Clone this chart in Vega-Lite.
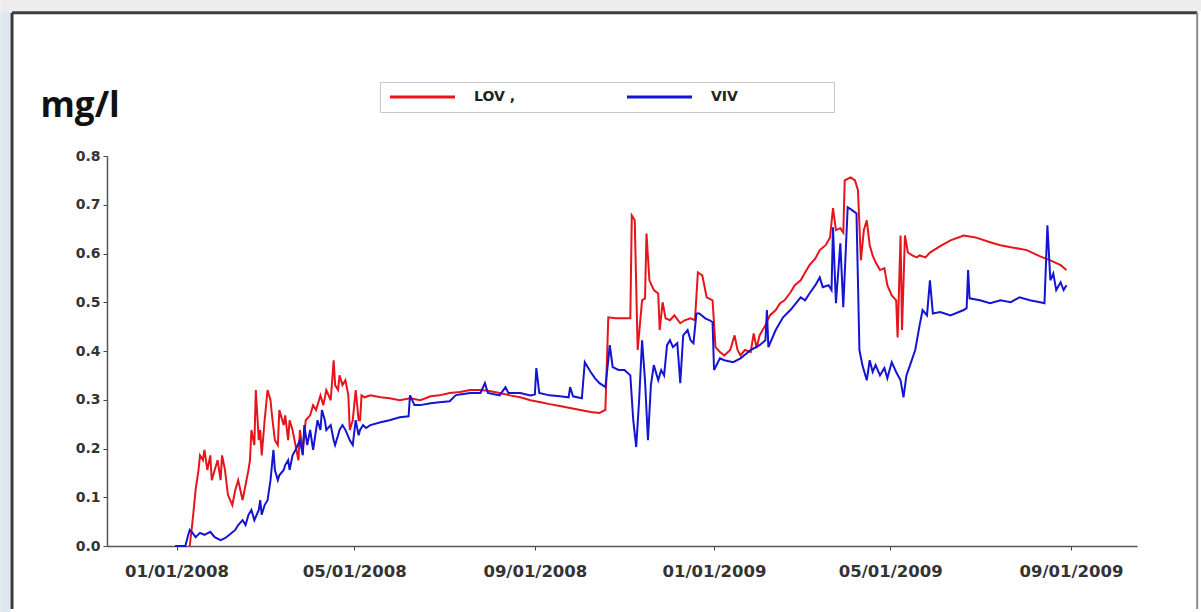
{
  "$schema": "https://vega.github.io/schema/vega-lite/v6.json",
  "width": 1030,
  "height": 390,
  "autosize": {"type": "none"},
  "padding": {"left": 107, "top": 156, "right": 64, "bottom": 66},
  "background": "#ffffff",
  "config": {"view": {"stroke": null}},
  "layer": [
    {
      "data": {"values": [{}]},
      "mark": {"type": "rect", "fill": "#ededed", "clip": false},
      "encoding": {
        "x": {"datum": {"year": 2007, "month": 9, "date": 3, "utc": true}, "type": "temporal"},
        "x2": {"datum": {"year": 2009, "month": 11, "date": 29, "utc": true}},
        "y": {"datum": 1.125, "type": "quantitative"},
        "y2": {"datum": 1.097}
      }
    },
    {
      "data": {"values": [{}]},
      "mark": {"type": "rect", "fill": "#dfe7f0", "clip": false},
      "encoding": {
        "x": {"datum": {"year": 2007, "month": 9, "date": 3, "utc": true}, "type": "temporal"},
        "x2": {"datum": {"year": 2007, "month": 9, "date": 10, "utc": true}},
        "y": {"datum": 1.097, "type": "quantitative"},
        "y2": {"datum": -0.14}
      }
    },
    {
      "data": {"values": [{}]},
      "mark": {"type": "rule", "stroke": "#3c3c3c", "strokeWidth": 3, "clip": false},
      "encoding": {
        "x": {"datum": {"year": 2007, "month": 9, "date": 11, "utc": true}, "type": "temporal"},
        "x2": {"datum": {"year": 2009, "month": 11, "date": 26, "utc": true}},
        "y": {"datum": 1.094, "type": "quantitative"}
      }
    },
    {
      "data": {"values": [{}]},
      "mark": {"type": "rule", "stroke": "#3c3c3c", "strokeWidth": 3, "clip": false},
      "encoding": {
        "x": {"datum": {"year": 2007, "month": 9, "date": 11, "utc": true}, "type": "temporal"},
        "y": {"datum": 1.094, "type": "quantitative"},
        "y2": {"datum": -0.129}
      }
    },
    {
      "data": {"values": [{}]},
      "mark": {"type": "rule", "stroke": "#8a8a8a", "strokeWidth": 2, "clip": false},
      "encoding": {
        "x": {"datum": {"year": 2009, "month": 11, "date": 26, "utc": true}, "type": "temporal"},
        "y": {"datum": 1.094, "type": "quantitative"},
        "y2": {"datum": -0.129}
      }
    },
    {
      "data": {"values": [
        {"s":"LOV","date":"2008-01-10","v":0},
        {"s":"LOV","date":"2008-01-12","v":0.053},
        {"s":"LOV","date":"2008-01-14","v":0.115},
        {"s":"LOV","date":"2008-01-16","v":0.156},
        {"s":"LOV","date":"2008-01-17","v":0.186},
        {"s":"LOV","date":"2008-01-19","v":0.176},
        {"s":"LOV","date":"2008-01-20","v":0.197},
        {"s":"LOV","date":"2008-01-22","v":0.156},
        {"s":"LOV","date":"2008-01-24","v":0.186},
        {"s":"LOV","date":"2008-01-25","v":0.135},
        {"s":"LOV","date":"2008-01-27","v":0.156},
        {"s":"LOV","date":"2008-01-29","v":0.176},
        {"s":"LOV","date":"2008-01-31","v":0.135},
        {"s":"LOV","date":"2008-02-01","v":0.186},
        {"s":"LOV","date":"2008-02-03","v":0.156},
        {"s":"LOV","date":"2008-02-05","v":0.105},
        {"s":"LOV","date":"2008-02-08","v":0.084},
        {"s":"LOV","date":"2008-02-10","v":0.115},
        {"s":"LOV","date":"2008-02-12","v":0.135},
        {"s":"LOV","date":"2008-02-15","v":0.094},
        {"s":"LOV","date":"2008-02-17","v":0.125},
        {"s":"LOV","date":"2008-02-19","v":0.156},
        {"s":"LOV","date":"2008-02-20","v":0.176},
        {"s":"LOV","date":"2008-02-21","v":0.238},
        {"s":"LOV","date":"2008-02-23","v":0.207},
        {"s":"LOV","date":"2008-02-24","v":0.320},
        {"s":"LOV","date":"2008-02-26","v":0.217},
        {"s":"LOV","date":"2008-02-27","v":0.238},
        {"s":"LOV","date":"2008-02-28","v":0.186},
        {"s":"LOV","date":"2008-03-01","v":0.258},
        {"s":"LOV","date":"2008-03-03","v":0.320},
        {"s":"LOV","date":"2008-03-05","v":0.299},
        {"s":"LOV","date":"2008-03-06","v":0.268},
        {"s":"LOV","date":"2008-03-08","v":0.217},
        {"s":"LOV","date":"2008-03-10","v":0.207},
        {"s":"LOV","date":"2008-03-11","v":0.279},
        {"s":"LOV","date":"2008-03-14","v":0.248},
        {"s":"LOV","date":"2008-03-15","v":0.268},
        {"s":"LOV","date":"2008-03-17","v":0.217},
        {"s":"LOV","date":"2008-03-18","v":0.258},
        {"s":"LOV","date":"2008-03-20","v":0.238},
        {"s":"LOV","date":"2008-03-22","v":0.207},
        {"s":"LOV","date":"2008-03-24","v":0.176},
        {"s":"LOV","date":"2008-03-25","v":0.238},
        {"s":"LOV","date":"2008-03-27","v":0.197},
        {"s":"LOV","date":"2008-03-29","v":0.258},
        {"s":"LOV","date":"2008-04-01","v":0.268},
        {"s":"LOV","date":"2008-04-03","v":0.289},
        {"s":"LOV","date":"2008-04-05","v":0.279},
        {"s":"LOV","date":"2008-04-08","v":0.309},
        {"s":"LOV","date":"2008-04-10","v":0.289},
        {"s":"LOV","date":"2008-04-12","v":0.320},
        {"s":"LOV","date":"2008-04-15","v":0.299},
        {"s":"LOV","date":"2008-04-17","v":0.381},
        {"s":"LOV","date":"2008-04-18","v":0.330},
        {"s":"LOV","date":"2008-04-20","v":0.320},
        {"s":"LOV","date":"2008-04-21","v":0.350},
        {"s":"LOV","date":"2008-04-23","v":0.330},
        {"s":"LOV","date":"2008-04-25","v":0.340},
        {"s":"LOV","date":"2008-04-27","v":0.309},
        {"s":"LOV","date":"2008-04-28","v":0.238},
        {"s":"LOV","date":"2008-04-30","v":0.258},
        {"s":"LOV","date":"2008-05-02","v":0.320},
        {"s":"LOV","date":"2008-05-04","v":0.258},
        {"s":"LOV","date":"2008-05-05","v":0.258},
        {"s":"LOV","date":"2008-05-06","v":0.309},
        {"s":"LOV","date":"2008-05-08","v":0.305},
        {"s":"LOV","date":"2008-05-12","v":0.309},
        {"s":"LOV","date":"2008-05-19","v":0.305},
        {"s":"LOV","date":"2008-05-25","v":0.303},
        {"s":"LOV","date":"2008-06-01","v":0.299},
        {"s":"LOV","date":"2008-06-08","v":0.303},
        {"s":"LOV","date":"2008-06-15","v":0.299},
        {"s":"LOV","date":"2008-06-22","v":0.307},
        {"s":"LOV","date":"2008-06-28","v":0.309},
        {"s":"LOV","date":"2008-07-05","v":0.314},
        {"s":"LOV","date":"2008-07-12","v":0.316},
        {"s":"LOV","date":"2008-07-19","v":0.320},
        {"s":"LOV","date":"2008-07-26","v":0.320},
        {"s":"LOV","date":"2008-08-01","v":0.318},
        {"s":"LOV","date":"2008-08-08","v":0.314},
        {"s":"LOV","date":"2008-08-15","v":0.309},
        {"s":"LOV","date":"2008-08-22","v":0.305},
        {"s":"LOV","date":"2008-08-29","v":0.299},
        {"s":"LOV","date":"2008-09-05","v":0.295},
        {"s":"LOV","date":"2008-09-11","v":0.291},
        {"s":"LOV","date":"2008-09-18","v":0.287},
        {"s":"LOV","date":"2008-09-25","v":0.283},
        {"s":"LOV","date":"2008-10-02","v":0.279},
        {"s":"LOV","date":"2008-10-09","v":0.275},
        {"s":"LOV","date":"2008-10-15","v":0.273},
        {"s":"LOV","date":"2008-10-19","v":0.279},
        {"s":"LOV","date":"2008-10-21","v":0.469},
        {"s":"LOV","date":"2008-10-26","v":0.467},
        {"s":"LOV","date":"2008-11-01","v":0.467},
        {"s":"LOV","date":"2008-11-05","v":0.467},
        {"s":"LOV","date":"2008-11-06","v":0.678},
        {"s":"LOV","date":"2008-11-08","v":0.668},
        {"s":"LOV","date":"2008-11-10","v":0.402},
        {"s":"LOV","date":"2008-11-13","v":0.504},
        {"s":"LOV","date":"2008-11-15","v":0.508},
        {"s":"LOV","date":"2008-11-16","v":0.641},
        {"s":"LOV","date":"2008-11-18","v":0.545},
        {"s":"LOV","date":"2008-11-21","v":0.525},
        {"s":"LOV","date":"2008-11-24","v":0.518},
        {"s":"LOV","date":"2008-11-25","v":0.443},
        {"s":"LOV","date":"2008-11-27","v":0.500},
        {"s":"LOV","date":"2008-11-29","v":0.467},
        {"s":"LOV","date":"2008-12-02","v":0.463},
        {"s":"LOV","date":"2008-12-05","v":0.473},
        {"s":"LOV","date":"2008-12-09","v":0.457},
        {"s":"LOV","date":"2008-12-12","v":0.463},
        {"s":"LOV","date":"2008-12-16","v":0.467},
        {"s":"LOV","date":"2008-12-19","v":0.463},
        {"s":"LOV","date":"2008-12-21","v":0.561},
        {"s":"LOV","date":"2008-12-24","v":0.555},
        {"s":"LOV","date":"2008-12-27","v":0.510},
        {"s":"LOV","date":"2008-12-31","v":0.504},
        {"s":"LOV","date":"2009-01-02","v":0.408},
        {"s":"LOV","date":"2009-01-05","v":0.398},
        {"s":"LOV","date":"2009-01-08","v":0.391},
        {"s":"LOV","date":"2009-01-12","v":0.402},
        {"s":"LOV","date":"2009-01-15","v":0.432},
        {"s":"LOV","date":"2009-01-17","v":0.402},
        {"s":"LOV","date":"2009-01-19","v":0.391},
        {"s":"LOV","date":"2009-01-22","v":0.402},
        {"s":"LOV","date":"2009-01-26","v":0.398},
        {"s":"LOV","date":"2009-01-28","v":0.436},
        {"s":"LOV","date":"2009-01-30","v":0.406},
        {"s":"LOV","date":"2009-02-01","v":0.432},
        {"s":"LOV","date":"2009-02-05","v":0.453},
        {"s":"LOV","date":"2009-02-08","v":0.473},
        {"s":"LOV","date":"2009-02-12","v":0.484},
        {"s":"LOV","date":"2009-02-15","v":0.498},
        {"s":"LOV","date":"2009-02-18","v":0.504},
        {"s":"LOV","date":"2009-02-22","v":0.520},
        {"s":"LOV","date":"2009-02-25","v":0.535},
        {"s":"LOV","date":"2009-03-01","v":0.545},
        {"s":"LOV","date":"2009-03-04","v":0.561},
        {"s":"LOV","date":"2009-03-07","v":0.576},
        {"s":"LOV","date":"2009-03-11","v":0.590},
        {"s":"LOV","date":"2009-03-14","v":0.607},
        {"s":"LOV","date":"2009-03-18","v":0.617},
        {"s":"LOV","date":"2009-03-21","v":0.633},
        {"s":"LOV","date":"2009-03-23","v":0.693},
        {"s":"LOV","date":"2009-03-25","v":0.648},
        {"s":"LOV","date":"2009-03-28","v":0.652},
        {"s":"LOV","date":"2009-03-30","v":0.643},
        {"s":"LOV","date":"2009-03-31","v":0.750},
        {"s":"LOV","date":"2009-04-04","v":0.756},
        {"s":"LOV","date":"2009-04-07","v":0.750},
        {"s":"LOV","date":"2009-04-09","v":0.730},
        {"s":"LOV","date":"2009-04-11","v":0.586},
        {"s":"LOV","date":"2009-04-13","v":0.648},
        {"s":"LOV","date":"2009-04-15","v":0.668},
        {"s":"LOV","date":"2009-04-17","v":0.617},
        {"s":"LOV","date":"2009-04-19","v":0.596},
        {"s":"LOV","date":"2009-04-21","v":0.582},
        {"s":"LOV","date":"2009-04-24","v":0.566},
        {"s":"LOV","date":"2009-04-27","v":0.570},
        {"s":"LOV","date":"2009-04-29","v":0.535},
        {"s":"LOV","date":"2009-05-02","v":0.514},
        {"s":"LOV","date":"2009-05-05","v":0.504},
        {"s":"LOV","date":"2009-05-06","v":0.428},
        {"s":"LOV","date":"2009-05-08","v":0.637},
        {"s":"LOV","date":"2009-05-09","v":0.443},
        {"s":"LOV","date":"2009-05-11","v":0.637},
        {"s":"LOV","date":"2009-05-13","v":0.602},
        {"s":"LOV","date":"2009-05-16","v":0.596},
        {"s":"LOV","date":"2009-05-19","v":0.592},
        {"s":"LOV","date":"2009-05-21","v":0.596},
        {"s":"LOV","date":"2009-05-25","v":0.592},
        {"s":"LOV","date":"2009-05-28","v":0.602},
        {"s":"LOV","date":"2009-06-04","v":0.615},
        {"s":"LOV","date":"2009-06-11","v":0.627},
        {"s":"LOV","date":"2009-06-20","v":0.637},
        {"s":"LOV","date":"2009-06-28","v":0.633},
        {"s":"LOV","date":"2009-07-08","v":0.623},
        {"s":"LOV","date":"2009-07-15","v":0.617},
        {"s":"LOV","date":"2009-07-22","v":0.613},
        {"s":"LOV","date":"2009-08-02","v":0.607},
        {"s":"LOV","date":"2009-08-11","v":0.594},
        {"s":"LOV","date":"2009-08-18","v":0.586},
        {"s":"LOV","date":"2009-08-25","v":0.576},
        {"s":"LOV","date":"2009-08-29","v":0.566},
        {"s":"VIV","date":"2007-12-31","v":0},
        {"s":"VIV","date":"2008-01-07","v":0},
        {"s":"VIV","date":"2008-01-09","v":0.023},
        {"s":"VIV","date":"2008-01-10","v":0.033},
        {"s":"VIV","date":"2008-01-12","v":0.027},
        {"s":"VIV","date":"2008-01-14","v":0.018},
        {"s":"VIV","date":"2008-01-17","v":0.027},
        {"s":"VIV","date":"2008-01-20","v":0.023},
        {"s":"VIV","date":"2008-01-24","v":0.029},
        {"s":"VIV","date":"2008-01-27","v":0.018},
        {"s":"VIV","date":"2008-01-31","v":0.012},
        {"s":"VIV","date":"2008-02-03","v":0.016},
        {"s":"VIV","date":"2008-02-06","v":0.023},
        {"s":"VIV","date":"2008-02-10","v":0.033},
        {"s":"VIV","date":"2008-02-12","v":0.043},
        {"s":"VIV","date":"2008-02-15","v":0.053},
        {"s":"VIV","date":"2008-02-17","v":0.043},
        {"s":"VIV","date":"2008-02-19","v":0.064},
        {"s":"VIV","date":"2008-02-21","v":0.074},
        {"s":"VIV","date":"2008-02-23","v":0.053},
        {"s":"VIV","date":"2008-02-26","v":0.074},
        {"s":"VIV","date":"2008-02-27","v":0.094},
        {"s":"VIV","date":"2008-02-28","v":0.064},
        {"s":"VIV","date":"2008-03-01","v":0.084},
        {"s":"VIV","date":"2008-03-03","v":0.094},
        {"s":"VIV","date":"2008-03-05","v":0.135},
        {"s":"VIV","date":"2008-03-07","v":0.197},
        {"s":"VIV","date":"2008-03-08","v":0.156},
        {"s":"VIV","date":"2008-03-10","v":0.135},
        {"s":"VIV","date":"2008-03-11","v":0.145},
        {"s":"VIV","date":"2008-03-14","v":0.156},
        {"s":"VIV","date":"2008-03-15","v":0.166},
        {"s":"VIV","date":"2008-03-17","v":0.176},
        {"s":"VIV","date":"2008-03-18","v":0.156},
        {"s":"VIV","date":"2008-03-20","v":0.186},
        {"s":"VIV","date":"2008-03-22","v":0.197},
        {"s":"VIV","date":"2008-03-25","v":0.217},
        {"s":"VIV","date":"2008-03-27","v":0.186},
        {"s":"VIV","date":"2008-03-28","v":0.248},
        {"s":"VIV","date":"2008-03-30","v":0.207},
        {"s":"VIV","date":"2008-04-01","v":0.238},
        {"s":"VIV","date":"2008-04-03","v":0.197},
        {"s":"VIV","date":"2008-04-04","v":0.217},
        {"s":"VIV","date":"2008-04-06","v":0.258},
        {"s":"VIV","date":"2008-04-08","v":0.238},
        {"s":"VIV","date":"2008-04-09","v":0.279},
        {"s":"VIV","date":"2008-04-11","v":0.258},
        {"s":"VIV","date":"2008-04-12","v":0.238},
        {"s":"VIV","date":"2008-04-15","v":0.248},
        {"s":"VIV","date":"2008-04-17","v":0.217},
        {"s":"VIV","date":"2008-04-18","v":0.207},
        {"s":"VIV","date":"2008-04-20","v":0.227},
        {"s":"VIV","date":"2008-04-21","v":0.238},
        {"s":"VIV","date":"2008-04-23","v":0.248},
        {"s":"VIV","date":"2008-04-25","v":0.238},
        {"s":"VIV","date":"2008-04-28","v":0.217},
        {"s":"VIV","date":"2008-04-30","v":0.207},
        {"s":"VIV","date":"2008-05-02","v":0.258},
        {"s":"VIV","date":"2008-05-04","v":0.227},
        {"s":"VIV","date":"2008-05-05","v":0.238},
        {"s":"VIV","date":"2008-05-07","v":0.248},
        {"s":"VIV","date":"2008-05-09","v":0.242},
        {"s":"VIV","date":"2008-05-12","v":0.248},
        {"s":"VIV","date":"2008-05-19","v":0.254},
        {"s":"VIV","date":"2008-05-25","v":0.258},
        {"s":"VIV","date":"2008-06-01","v":0.264},
        {"s":"VIV","date":"2008-06-07","v":0.266},
        {"s":"VIV","date":"2008-06-08","v":0.309},
        {"s":"VIV","date":"2008-06-11","v":0.289},
        {"s":"VIV","date":"2008-06-15","v":0.289},
        {"s":"VIV","date":"2008-06-22","v":0.293},
        {"s":"VIV","date":"2008-06-28","v":0.295},
        {"s":"VIV","date":"2008-07-05","v":0.297},
        {"s":"VIV","date":"2008-07-09","v":0.309},
        {"s":"VIV","date":"2008-07-12","v":0.311},
        {"s":"VIV","date":"2008-07-19","v":0.314},
        {"s":"VIV","date":"2008-07-26","v":0.314},
        {"s":"VIV","date":"2008-07-29","v":0.334},
        {"s":"VIV","date":"2008-07-31","v":0.314},
        {"s":"VIV","date":"2008-08-08","v":0.309},
        {"s":"VIV","date":"2008-08-12","v":0.326},
        {"s":"VIV","date":"2008-08-14","v":0.314},
        {"s":"VIV","date":"2008-08-22","v":0.314},
        {"s":"VIV","date":"2008-08-29","v":0.309},
        {"s":"VIV","date":"2008-09-01","v":0.311},
        {"s":"VIV","date":"2008-09-02","v":0.365},
        {"s":"VIV","date":"2008-09-04","v":0.314},
        {"s":"VIV","date":"2008-09-11","v":0.309},
        {"s":"VIV","date":"2008-09-18","v":0.307},
        {"s":"VIV","date":"2008-09-24","v":0.305},
        {"s":"VIV","date":"2008-09-25","v":0.326},
        {"s":"VIV","date":"2008-09-27","v":0.307},
        {"s":"VIV","date":"2008-10-03","v":0.303},
        {"s":"VIV","date":"2008-10-05","v":0.377},
        {"s":"VIV","date":"2008-10-09","v":0.357},
        {"s":"VIV","date":"2008-10-12","v":0.344},
        {"s":"VIV","date":"2008-10-15","v":0.334},
        {"s":"VIV","date":"2008-10-19","v":0.326},
        {"s":"VIV","date":"2008-10-21","v":0.381},
        {"s":"VIV","date":"2008-10-22","v":0.412},
        {"s":"VIV","date":"2008-10-24","v":0.367},
        {"s":"VIV","date":"2008-10-28","v":0.361},
        {"s":"VIV","date":"2008-11-01","v":0.361},
        {"s":"VIV","date":"2008-11-05","v":0.350},
        {"s":"VIV","date":"2008-11-07","v":0.258},
        {"s":"VIV","date":"2008-11-09","v":0.203},
        {"s":"VIV","date":"2008-11-11","v":0.299},
        {"s":"VIV","date":"2008-11-13","v":0.422},
        {"s":"VIV","date":"2008-11-15","v":0.340},
        {"s":"VIV","date":"2008-11-17","v":0.217},
        {"s":"VIV","date":"2008-11-19","v":0.330},
        {"s":"VIV","date":"2008-11-21","v":0.371},
        {"s":"VIV","date":"2008-11-24","v":0.340},
        {"s":"VIV","date":"2008-11-26","v":0.361},
        {"s":"VIV","date":"2008-11-28","v":0.350},
        {"s":"VIV","date":"2008-11-30","v":0.412},
        {"s":"VIV","date":"2008-12-02","v":0.422},
        {"s":"VIV","date":"2008-12-04","v":0.408},
        {"s":"VIV","date":"2008-12-07","v":0.416},
        {"s":"VIV","date":"2008-12-09","v":0.334},
        {"s":"VIV","date":"2008-12-11","v":0.432},
        {"s":"VIV","date":"2008-12-14","v":0.443},
        {"s":"VIV","date":"2008-12-16","v":0.422},
        {"s":"VIV","date":"2008-12-18","v":0.416},
        {"s":"VIV","date":"2008-12-20","v":0.477},
        {"s":"VIV","date":"2008-12-22","v":0.477},
        {"s":"VIV","date":"2008-12-26","v":0.467},
        {"s":"VIV","date":"2008-12-29","v":0.463},
        {"s":"VIV","date":"2008-12-31","v":0.459},
        {"s":"VIV","date":"2009-01-01","v":0.361},
        {"s":"VIV","date":"2009-01-05","v":0.385},
        {"s":"VIV","date":"2009-01-08","v":0.381},
        {"s":"VIV","date":"2009-01-14","v":0.377},
        {"s":"VIV","date":"2009-01-19","v":0.385},
        {"s":"VIV","date":"2009-01-26","v":0.402},
        {"s":"VIV","date":"2009-02-01","v":0.412},
        {"s":"VIV","date":"2009-02-05","v":0.422},
        {"s":"VIV","date":"2009-02-06","v":0.484},
        {"s":"VIV","date":"2009-02-07","v":0.408},
        {"s":"VIV","date":"2009-02-12","v":0.443},
        {"s":"VIV","date":"2009-02-17","v":0.469},
        {"s":"VIV","date":"2009-02-22","v":0.484},
        {"s":"VIV","date":"2009-03-01","v":0.510},
        {"s":"VIV","date":"2009-03-04","v":0.504},
        {"s":"VIV","date":"2009-03-07","v":0.518},
        {"s":"VIV","date":"2009-03-11","v":0.535},
        {"s":"VIV","date":"2009-03-14","v":0.551},
        {"s":"VIV","date":"2009-03-16","v":0.531},
        {"s":"VIV","date":"2009-03-20","v":0.535},
        {"s":"VIV","date":"2009-03-22","v":0.525},
        {"s":"VIV","date":"2009-03-23","v":0.654},
        {"s":"VIV","date":"2009-03-25","v":0.498},
        {"s":"VIV","date":"2009-03-28","v":0.621},
        {"s":"VIV","date":"2009-03-30","v":0.490},
        {"s":"VIV","date":"2009-04-02","v":0.695},
        {"s":"VIV","date":"2009-04-05","v":0.689},
        {"s":"VIV","date":"2009-04-08","v":0.682},
        {"s":"VIV","date":"2009-04-10","v":0.402},
        {"s":"VIV","date":"2009-04-12","v":0.371},
        {"s":"VIV","date":"2009-04-15","v":0.340},
        {"s":"VIV","date":"2009-04-17","v":0.381},
        {"s":"VIV","date":"2009-04-19","v":0.357},
        {"s":"VIV","date":"2009-04-21","v":0.371},
        {"s":"VIV","date":"2009-04-24","v":0.350},
        {"s":"VIV","date":"2009-04-27","v":0.365},
        {"s":"VIV","date":"2009-04-29","v":0.344},
        {"s":"VIV","date":"2009-05-02","v":0.377},
        {"s":"VIV","date":"2009-05-05","v":0.357},
        {"s":"VIV","date":"2009-05-08","v":0.340},
        {"s":"VIV","date":"2009-05-10","v":0.305},
        {"s":"VIV","date":"2009-05-12","v":0.350},
        {"s":"VIV","date":"2009-05-14","v":0.367},
        {"s":"VIV","date":"2009-05-18","v":0.402},
        {"s":"VIV","date":"2009-05-21","v":0.453},
        {"s":"VIV","date":"2009-05-23","v":0.484},
        {"s":"VIV","date":"2009-05-26","v":0.473},
        {"s":"VIV","date":"2009-05-28","v":0.545},
        {"s":"VIV","date":"2009-05-30","v":0.477},
        {"s":"VIV","date":"2009-06-04","v":0.480},
        {"s":"VIV","date":"2009-06-11","v":0.473},
        {"s":"VIV","date":"2009-06-20","v":0.484},
        {"s":"VIV","date":"2009-06-22","v":0.488},
        {"s":"VIV","date":"2009-06-23","v":0.566},
        {"s":"VIV","date":"2009-06-24","v":0.508},
        {"s":"VIV","date":"2009-07-01","v":0.504},
        {"s":"VIV","date":"2009-07-08","v":0.498},
        {"s":"VIV","date":"2009-07-15","v":0.504},
        {"s":"VIV","date":"2009-07-22","v":0.500},
        {"s":"VIV","date":"2009-07-28","v":0.510},
        {"s":"VIV","date":"2009-08-04","v":0.504},
        {"s":"VIV","date":"2009-08-11","v":0.500},
        {"s":"VIV","date":"2009-08-14","v":0.498},
        {"s":"VIV","date":"2009-08-16","v":0.658},
        {"s":"VIV","date":"2009-08-18","v":0.545},
        {"s":"VIV","date":"2009-08-20","v":0.559},
        {"s":"VIV","date":"2009-08-22","v":0.525},
        {"s":"VIV","date":"2009-08-25","v":0.541},
        {"s":"VIV","date":"2009-08-27","v":0.525},
        {"s":"VIV","date":"2009-08-29","v":0.535}
      ]},
      "mark": {"type": "line", "strokeWidth": 2},
      "encoding": {
        "x": {
          "field": "date",
          "type": "temporal",
          "scale": {
            "type": "utc",
            "domain": [
              {"year": 2007, "month": 11, "date": 14, "hours": 16, "utc": true},
              {"year": 2009, "month": 10, "date": 16, "utc": true}
            ]
          },
          "axis": {
            "title": null,
            "values": [
              {"year": 2008, "month": 1, "date": 1, "utc": true},
              {"year": 2008, "month": 5, "date": 1, "utc": true},
              {"year": 2008, "month": 9, "date": 1, "utc": true},
              {"year": 2009, "month": 1, "date": 1, "utc": true},
              {"year": 2009, "month": 5, "date": 1, "utc": true},
              {"year": 2009, "month": 9, "date": 1, "utc": true}
            ],
            "labelExpr": "utcFormat(datum.value, '%m/%d/%Y')",
            "grid": false,
            "domainColor": "#555555",
            "domainWidth": 1.5,
            "tickColor": "#444444",
            "tickSize": 4,
            "labelFont": "DejaVu Sans",
            "labelFontWeight": "bold",
            "labelFontSize": 16.5,
            "labelColor": "#333333",
            "labelBaseline": "alphabetic",
            "labelPadding": 26,
            "labelOverlap": false,
            "labelFlush": false
          }
        },
        "y": {
          "field": "v",
          "type": "quantitative",
          "scale": {"domain": [0, 0.8], "nice": false, "zero": true},
          "axis": {
            "title": "mg/l",
            "titleAngle": 0,
            "titleAlign": "left",
            "titleBaseline": "alphabetic",
            "titleX": -67,
            "titleY": -40,
            "titleFont": "Open Sans",
            "titleFontSize": 35,
            "titleFontWeight": "bold",
            "titleColor": "#111111",
            "values": [0, 0.05, 0.1, 0.15, 0.2, 0.25, 0.3, 0.35, 0.4, 0.45, 0.5, 0.55, 0.6, 0.65, 0.7, 0.75, 0.8],
            "labelExpr": "round(datum.value * 100) % 10 == 0 ? format(datum.value, '.1f') : ''",
            "grid": false,
            "domainColor": "#555555",
            "domainWidth": 1.5,
            "tickColor": "#444444",
            "tickSize": 4,
            "labelFont": "DejaVu Sans",
            "labelFontWeight": "bold",
            "labelFontSize": 14,
            "labelColor": "#333333",
            "labelPadding": 3,
            "labelOverlap": false,
            "labelFlush": false
          }
        },
        "color": {
          "field": "s",
          "type": "nominal",
          "scale": {"domain": ["LOV", "VIV"], "range": ["#e8141b", "#1414d2"]},
          "legend": {
            "title": null,
            "orient": "none",
            "legendX": 273,
            "legendY": -74,
            "direction": "horizontal",
            "symbolType": "M-1,0H12",
            "symbolSize": 100,
            "symbolStrokeWidth": 3,
            "symbolFillColor": "transparent",
            "labelFont": "DejaVu Sans",
            "labelFontWeight": "bold",
            "labelFontSize": 14,
            "labelColor": "#222222",
            "labelOffset": 72,
            "columnPadding": 106,
            "padding": 8,
            "strokeColor": "#c8c8c8",
            "fillColor": "#ffffff",
            "labelExpr": "datum.label == 'LOV' ? 'LOV ,' : 'VIV\u2800\u2800\u2800\u2800\u2800\u2800\u2800\u2800'"
          }
        }
      }
    }
  ]
}
